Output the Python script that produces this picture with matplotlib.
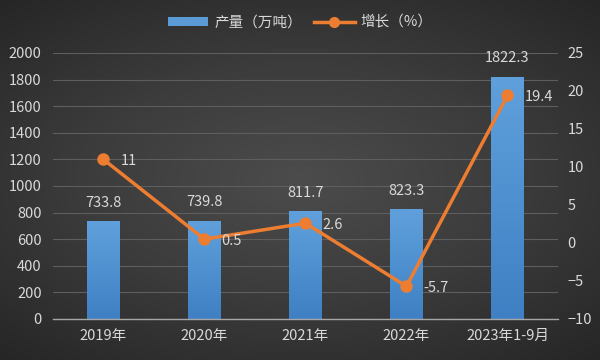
import numpy as np
import matplotlib
matplotlib.use("Agg")
import matplotlib.pyplot as plt
from matplotlib.lines import Line2D
from matplotlib.patches import Patch

plt.rcParams['font.family'] = ['Noto Sans CJK SC', 'DejaVu Sans']

### data ###
categories = ["2019年", "2020年", "2021年", "2022年", "2023年1-9月"]
output = [733.8, 739.8, 811.7, 823.3, 1822.3]
growth = [11, 0.5, 2.6, -5.7, 19.4]
output_labels = ["733.8", "739.8", "811.7", "823.3", "1822.3"]
growth_labels = ["11", "0.5", "2.6", "-5.7", "19.4"]

txt = "#d9d9d9"
bar_col = "#5b9bd5"
line_col = "#ed7d31"
fs = 10.5

fig = plt.figure(figsize=(6, 3.6), dpi=100)

# radial dark background
bg = fig.add_axes([0, 0, 1, 1], zorder=0)
yy, xx = np.mgrid[-1:1:180j, -1:1:300j]
r = np.sqrt((xx * 0.9) ** 2 + (yy * 1.0) ** 2)
bg.imshow(r, cmap=matplotlib.colors.LinearSegmentedColormap.from_list(
    "bg", ["#4c4c4c", "#3b3b3b", "#262626"]), aspect="auto",
    extent=[0, 1, 0, 1], vmin=0, vmax=1.35)
bg.axis("off")

ax = fig.add_axes([0.088, 0.114, 0.842, 0.739], zorder=1)
ax.patch.set_alpha(0)
x = np.arange(len(categories))

bars = ax.bar(x, output, width=0.32, color=bar_col, zorder=2)
# vertical gradient on bars
grad = np.linspace(0, 1, 100).reshape(-1, 1)
cm_bar = matplotlib.colors.LinearSegmentedColormap.from_list("b", ["#3f80c4", "#5fa0dc"])
for b in bars:
    im = ax.imshow(grad, cmap=cm_bar, aspect="auto", origin="lower",
                   extent=[b.get_x(), b.get_x() + b.get_width(), 0, b.get_height()], zorder=2)
    im.set_clip_path(b)
ax.set_xlim(-0.5, len(categories) - 0.5)
ax.set_ylim(0, 2000)
ax.set_yticks(np.arange(0, 2001, 200))
ax.grid(axis="y", color="#5e5e5e", linewidth=0.8, zorder=0)
ax.set_axisbelow(True)
for s in ["top", "right", "left"]:
    ax.spines[s].set_visible(False)
ax.spines["bottom"].set_color("#a6a6a6")
ax.spines["bottom"].set_linewidth(1)
ax.tick_params(axis="both", length=0, colors=txt, labelsize=fs)
ax.tick_params(axis="y", pad=8)
ax.tick_params(axis="x", pad=7)
ax.set_xticks(x)
ax.set_xticklabels(categories)

for xi, v, lab in zip(x, output, output_labels):
    ax.text(xi, v + 85, lab, ha="center", va="bottom", color=txt, fontsize=fs, zorder=4)

ax2 = ax.twinx()
ax2.set_ylim(-10, 25)
ax2.set_yticks(np.arange(-10, 26, 5))
for s in ax2.spines.values():
    s.set_visible(False)
ax2.tick_params(axis="y", length=0, colors=txt, labelsize=fs, pad=7)
ax2.plot(x, growth, color=line_col, linewidth=2.5, marker="o", markersize=8, zorder=3)
for xi, v, lab in zip(x, growth, growth_labels):
    ax2.text(xi + 0.17, v - 0.2, lab, ha="left", va="center", color=txt, fontsize=fs, zorder=4)

handles = [Patch(facecolor=bar_col, edgecolor="none"),
           Line2D([0], [0], color=line_col, linewidth=2.5, marker="o", markersize=7)]
fig.legend(handles, ["产量（万吨）", "增长（%）"], loc="center", bbox_to_anchor=(0.5, 0.937),
           ncol=2, frameon=False, labelcolor=txt, fontsize=fs, handlelength=2.8,
           handleheight=0.6, columnspacing=0.8, handletextpad=0.4)

fig.savefig("out.png", dpi=100)
